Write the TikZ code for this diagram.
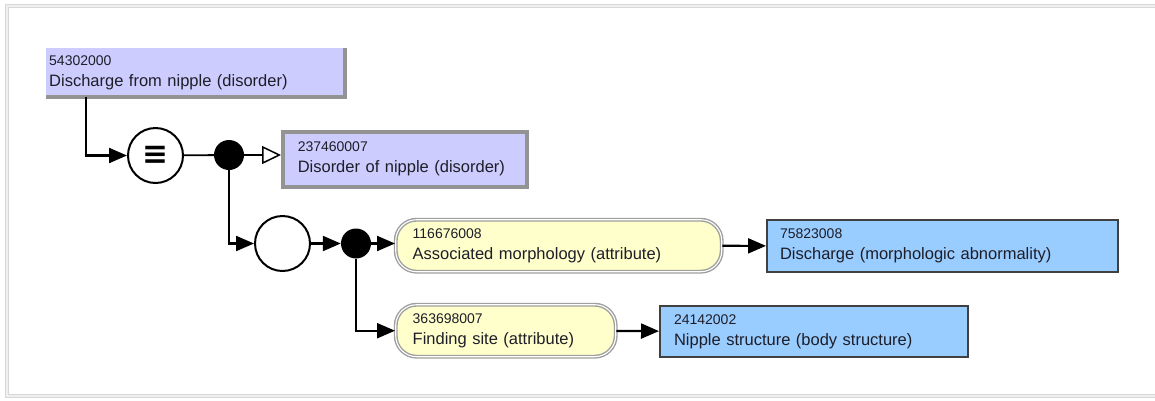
\documentclass[tikz,border=0pt]{standalone}
\usepackage{fontspec}
\setmainfont{Liberation Sans}
\newfontfamily\symbolfont{DejaVu Sans}
\usetikzlibrary{arrows.meta}

\definecolor{lavender}{RGB}{204,204,255}
\definecolor{attrfill}{RGB}{255,255,204}
\definecolor{skyfill}{RGB}{153,204,255}
\definecolor{inkgray}{RGB}{30,30,40}
\definecolor{framegray}{RGB}{190,190,190}

% concept identifier, set smaller above the description
\newcommand\conceptid[1]{\mbox{\fontsize{14}{21}\selectfont #1}}

\begin{document}
\begin{tikzpicture}[x=1pt, y=-1pt,
  concept/.style={anchor=north west, align=left, inner ysep=0pt,
    font=\fontsize{16.5}{21}\selectfont, text=inkgray},
  defined/.style={concept, fill=lavender},
  focus/.style={concept, fill=lavender, draw=gray!85!white, line width=3.5pt},
  attribute/.style={concept, fill=attrfill, rounded corners=21pt,
    draw=gray!75, double=white, line width=1.4pt, double distance=1.1pt},
  valuebox/.style={concept, fill=skyfill, draw=black!75, line width=2pt},
  ring/.style={circle, draw=black, line width=2pt, fill=white,
    minimum size=55pt, inner sep=0pt},
  joint/.style={circle, fill=black, minimum size=30pt, inner sep=0pt},
  link/.style={draw=black, line width=2.2pt},
  solidhead/.style={-{Triangle[length=18pt, width=15pt]}},
  openhead/.style={-{Triangle[open, length=19pt, width=18pt, line width=1.5pt, fill=white]}},
]
\useasboundingbox (0,0) rectangle (1155,400);

% window frame
\draw[framegray!60, line width=4pt] (1160,6) -- (7,6) -- (7,396) -- (1160,396);
\draw[framegray!120!black!60, line width=1.2pt] (1160,6) -- (7,6) -- (7,396) -- (1160,396);

% concepts
\node[defined, minimum width=299pt, minimum height=49pt,
      inner xsep=3pt, text width=293pt] (box1) at (46,48)
  {\conceptid{54302000}\\\mbox{Discharge from nipple (disorder)}};
\draw[gray!85!white, line width=4pt]
  (box1.north east) -- (box1.south east) -- (box1.south west);

\node[focus, minimum width=244pt, minimum height=55pt,
      inner xsep=15pt, text width=214pt] (box2) at (281,130)
  {\conceptid{237460007}\\\mbox{Disorder of nipple (disorder)}};

\node[attribute, minimum width=326pt, minimum height=52pt,
      inner xsep=17pt, text width=292pt] (pill1) at (395,219)
  {\conceptid{116676008}\\\mbox{Associated morphology (attribute)}};

\node[attribute, minimum width=220pt, minimum height=52pt,
      inner xsep=17pt, text width=186pt] (pill2) at (395,304)
  {\conceptid{363698007}\\\mbox{Finding site (attribute)}};

\node[valuebox, minimum width=351pt, minimum height=52pt,
      inner xsep=13pt, text width=325pt] (box3) at (766,219)
  {\conceptid{75823008}\\\mbox{Discharge (morphologic abnormality)}};

\node[valuebox, minimum width=308pt, minimum height=51pt,
      inner xsep=14pt, text width=280pt] (box4) at (659,305)
  {\conceptid{24142002}\\\mbox{Nipple structure (body structure)}};

% operators
\node[ring, font=\symbolfont\bfseries\fontsize{31}{31}\selectfont] (eq) at (155.5,155.5) {≡};
\node[joint] (fork1) at (229,155) {};
\node[ring] (conj) at (282.5,243.5) {};
\node[joint] (fork2) at (356,243.5) {};

% connectors
\draw[link, solidhead] ([xshift=40pt]box1.south west) |- (eq);
\draw[link, line width=1.8pt] (eq) -- (fork1);
\draw[link, openhead] (fork1) -- (fork1 -| box2.west);
\draw[link, solidhead] (fork1) |- (conj);
\draw[link, solidhead] (conj) -- (fork2);
\draw[link, solidhead] (fork2) -- (fork2 -| pill1.west);
\draw[link, solidhead] (fork2) |- (pill2);
\draw[link, solidhead] (pill1) -- (box3);
\draw[link, solidhead] (pill2) -- (box4);
\end{tikzpicture}
\end{document}
